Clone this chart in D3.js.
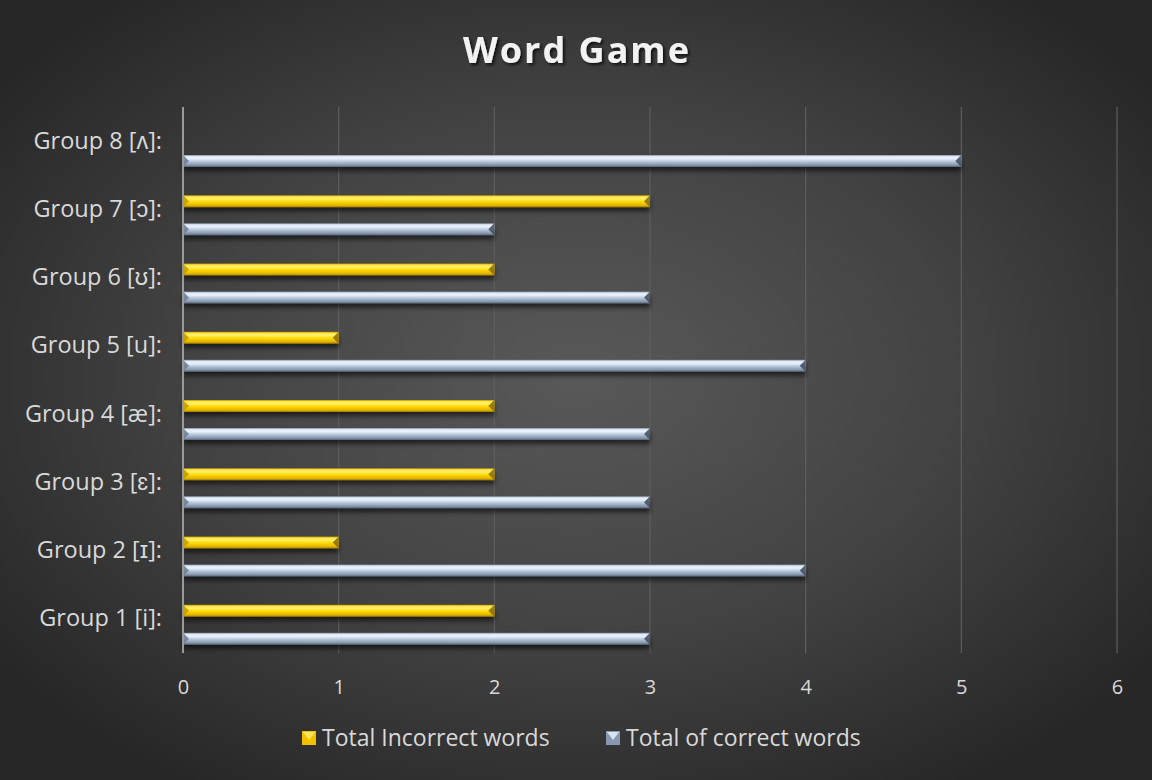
<!DOCTYPE html>
<html>
<head>
<meta charset="utf-8">
<script src="https://cdn.jsdelivr.net/npm/d3@7"></script>
<style>
  html, body { margin: 0; padding: 0; background: #2a2a2a; }
  svg { display: block; }
</style>
</head>
<body>
<svg id="chart" width="1152" height="780"></svg>
<script>
// Categories (bottom to top) and the two series
const categories = ["Group 1 [i]:", "Group 2 [ɪ]:", "Group 3 [ɛ]:", "Group 4 [æ]:",
                    "Group 5 [u]:", "Group 6 [ʊ]:", "Group 7 [ɔ]:", "Group 8 [ʌ]:"];
const incorrectWords = [2, 1, 2, 2, 1, 2, 3, 0];
const correctWords   = [3, 4, 3, 3, 4, 3, 2, 5];
const seriesNames = ["Total Incorrect words", "Total of correct words"];
const xTicks = [0, 1, 2, 3, 4, 5, 6];
const titleText = "Word Game";

const W = 1152, H = 780;
const margin = { left: 183, right: 35, top: 107, bottom: 127 };
const svg = d3.select("#chart");
const defs = svg.append("defs");

// Background: dark radial glow
const bg = defs.append("radialGradient").attr("id", "bg")
  .attr("cx", "50%").attr("cy", "48%").attr("r", "62%");
bg.append("stop").attr("offset", "0%").attr("stop-color", "#595959");
bg.append("stop").attr("offset", "55%").attr("stop-color", "#424242");
bg.append("stop").attr("offset", "100%").attr("stop-color", "#272727");
svg.append("rect").attr("width", W).attr("height", H).attr("fill", "url(#bg)");

// Bevelled bar fills
function barGradient(id, stops) {
  const g = defs.append("linearGradient").attr("id", id)
    .attr("x1", 0).attr("y1", 0).attr("x2", 0).attr("y2", 1);
  stops.forEach(([o, c]) => g.append("stop").attr("offset", o).attr("stop-color", c));
}
barGradient("gradY", [["0%", "#b89000"], ["12%", "#ffe74a"], ["30%", "#fff06a"],
                      ["55%", "#ffd800"], ["85%", "#e0b400"], ["100%", "#9a7600"]]);
barGradient("gradB", [["0%", "#7a8aa0"], ["12%", "#dfe9f6"], ["30%", "#eaf1fa"],
                      ["55%", "#b6c6da"], ["85%", "#8594a8"], ["100%", "#55627a"]]);

const shadow = defs.append("filter").attr("id", "shadow")
  .attr("x", "-5%").attr("y", "-50%").attr("width", "110%").attr("height", "250%");
shadow.append("feDropShadow").attr("dx", 0).attr("dy", 4).attr("stdDeviation", 2.5)
  .attr("flood-color", "#000").attr("flood-opacity", 0.6);

const titleShadow = defs.append("filter").attr("id", "tshadow")
  .attr("x", "-10%").attr("y", "-30%").attr("width", "120%").attr("height", "160%");
titleShadow.append("feDropShadow").attr("dx", 2).attr("dy", 2).attr("stdDeviation", 1.5)
  .attr("flood-color", "#000").attr("flood-opacity", 0.7);

// Scales
const x = d3.scaleLinear().domain([0, 6]).range([margin.left, W - margin.right]);
const y = d3.scaleBand().domain(categories)
  .range([H - margin.bottom, margin.top]).padding(0);
const inner = d3.scaleBand().domain(seriesNames)
  .range([y.bandwidth() * 0.293, y.bandwidth() * 0.879]).paddingInner(4 / 7);

// Gridlines
svg.append("g").selectAll("line").data(xTicks.slice(1)).join("line")
  .attr("x1", d => x(d)).attr("x2", d => x(d))
  .attr("y1", margin.top).attr("y2", H - margin.bottom)
  .attr("stroke", "#5e5e5e").attr("stroke-width", 1.2);

// Bars
const rows = categories.map((c, i) => ({ c, vals: [incorrectWords[i], correctWords[i]] }));
const fills = ["url(#gradY)", "url(#gradB)"];
const endFills = ["#8a6a00", "#3e4a5e"];
const startFills = ["#c79c00", "#6e7f98"];

const bars = svg.append("g");
rows.forEach(r => {
  r.vals.forEach((v, si) => {
    if (!v) return;
    const y0 = y(r.c) + inner(seriesNames[si]);
    const h = inner.bandwidth();
    const x0 = x(0), x1 = x(v);
    const g = bars.append("g");
    g.append("rect").attr("x", x0).attr("y", y0).attr("width", x1 - x0).attr("height", h)
      .attr("fill", fills[si]).attr("filter", "url(#shadow)");
    // bevelled ends
    const b = h / 2;
    g.append("path")
      .attr("d", `M${x1},${y0} L${x1},${y0 + h} L${x1 - b},${y0 + h / 2} Z`)
      .attr("fill", endFills[si]).attr("opacity", 0.85);
    g.append("path")
      .attr("d", `M${x0},${y0} L${x0 + b},${y0 + h / 2} L${x0},${y0 + h} Z`)
      .attr("fill", startFills[si]).attr("opacity", 0.9);
  });
});

// Vertical axis line at zero
svg.append("line")
  .attr("x1", x(0)).attr("x2", x(0))
  .attr("y1", margin.top).attr("y2", H - margin.bottom)
  .attr("stroke", "#9a9a9a").attr("stroke-width", 2);

// X tick labels
const xAxis = svg.append("g")
  .attr("transform", `translate(0,${H - margin.bottom + 38})`)
  .call(d3.axisBottom(x).tickValues(xTicks).tickSize(0).tickFormat(d3.format("d")));
xAxis.select(".domain").remove();
xAxis.selectAll("text")
  .attr("fill", "#d9d9d9").attr("font-family", "'Open Sans', sans-serif")
  .attr("font-size", 20).attr("dy", "0");

// Category labels
const yAxis = svg.append("g")
  .attr("transform", `translate(${x(0) - 18},0)`)
  .call(d3.axisLeft(y).tickSize(0));
yAxis.select(".domain").remove();
yAxis.selectAll("text")
  .attr("fill", "#d9d9d9").attr("font-family", "'Open Sans', sans-serif")
  .attr("font-size", 23.5).attr("dy", "0.32em");

// Title
svg.append("text")
  .attr("x", W / 2 + 1).attr("y", 63)
  .attr("text-anchor", "middle")
  .attr("font-family", "'Open Sans', sans-serif").attr("font-weight", 700)
  .attr("font-size", 36).attr("letter-spacing", 2)
  .attr("fill", "#f2f2f2").attr("filter", "url(#tshadow)")
  .text(titleText);

// Legend
const legend = svg.append("g").attr("transform", `translate(0,738)`);
const legendItems = [
  { name: seriesNames[0], fill: "url(#gradY)", x: 302 },
  { name: seriesNames[1], fill: "url(#gradB)", x: 606 }
];
legendItems.forEach((it, i) => {
  const g = legend.append("g").attr("transform", `translate(${it.x},0)`);
  g.append("rect").attr("x", 0).attr("y", -7).attr("width", 14).attr("height", 14)
    .attr("fill", i === 0 ? "#f2c200" : "#8898b0");
  g.append("path").attr("d", "M1,-6 L13,-6 L7,2 Z")
    .attr("fill", i === 0 ? "#ffe65a" : "#d8e4f2");
  g.append("text").attr("x", 20).attr("y", 0).attr("dy", "0.35em")
    .attr("fill", "#d9d9d9").attr("font-family", "'Open Sans', sans-serif")
    .attr("font-size", 23).text(it.name);
});
</script>
</body>
</html>
